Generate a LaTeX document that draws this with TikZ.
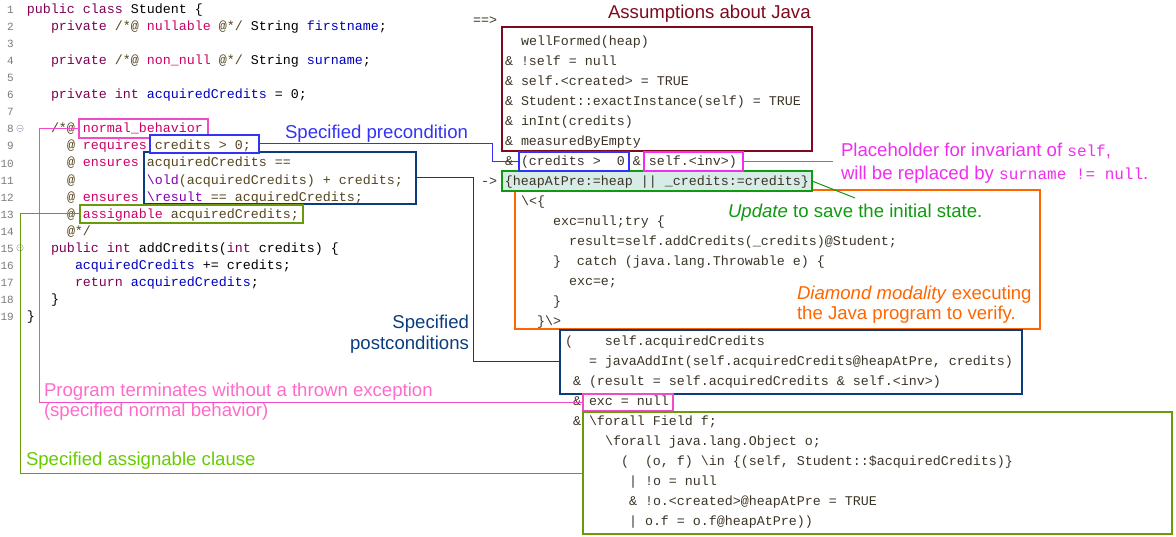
\documentclass[tikz,border=0pt]{standalone}
\usepackage{fontspec}
\setmainfont{Liberation Sans}
\newfontfamily\monof{Liberation Mono}
\usetikzlibrary{calc}
\definecolor{kw}{HTML}{7F0055}
\definecolor{fld}{HTML}{0000C0}
\definecolor{jmlkw}{HTML}{CC0066}
\definecolor{jmlc}{HTML}{55451F}
\definecolor{jmlsp}{HTML}{7F00B0}
\definecolor{rc}{HTML}{3B3326}
\definecolor{lnc}{HTML}{7A7A7A}
\definecolor{pinkc}{HTML}{F04CC8}
\definecolor{pinkt}{HTML}{FF6BCB}
\definecolor{bluec}{HTML}{3333F5}
\definecolor{dkblue}{HTML}{0B3D7E}
\definecolor{dkred}{HTML}{7F0A1F}
\definecolor{magc}{HTML}{F02EF0}
\definecolor{greenc}{HTML}{109A10}
\definecolor{mint}{HTML}{D8ECE7}
\definecolor{orangec}{HTML}{FF6600}
\definecolor{olivec}{HTML}{6A9A0A}
\definecolor{olivet}{HTML}{66CC00}
\definecolor{foldc}{HTML}{8A9AB0}
\newcommand\bsl{\textbackslash}
\tikzset{
  code/.style={anchor=base west, inner sep=0pt, outer sep=0pt, font=\monof\fontsize{13.33}{20}\selectfont},
  rcode/.style={code, text=rc},
  lnum/.style={anchor=base east, inner sep=0pt, font=\monof\fontsize{11}{13}\selectfont, text=lnc},
  lab/.style={anchor=base west, inner sep=0pt, outer sep=0pt, font=\fontsize{18.6}{22}\selectfont},
  labr/.style={lab, anchor=base east},
  box/.style={draw, line width=2pt, inner sep=0pt, outer sep=0pt, anchor=north west},
  conn/.style={line width=1pt},
}
\newcommand\mlab[1]{{\monof\fontsize{16}{20}\selectfont #1}}
\begin{document}
\begin{tikzpicture}[x=1pt,y=-1pt]
\useasboundingbox (0,0) rectangle (1176,537);

% ---------- boxes ----------
\node[box, draw=dkred, minimum width=310pt, minimum height=124pt] (assumeBox) at (502,27) {};
\node[box, draw=orangec, minimum width=525pt, minimum height=139pt] (dmBox) at (515,190) {};
\node[box, draw=greenc, fill=mint, minimum width=310pt, minimum height=20pt] (updBox) at (502,171) {};
\node[box, draw=bluec, minimum width=110pt, minimum height=19pt] (preBoxR) at (519,152) {};
\node[box, draw=magc, minimum width=99pt, minimum height=19pt] (invBox) at (644,152) {};
\node[box, draw=dkblue, minimum width=462pt, minimum height=64pt] (postBoxR) at (560,330) {};
\node[box, draw=pinkc, minimum width=90pt, minimum height=17pt] (excBox) at (583,394) {};
\node[box, draw=olivec, minimum width=589pt, minimum height=122pt] (asgBoxR) at (583,412) {};

\node[box, draw=dkblue, minimum width=272pt, minimum height=52pt] (postBoxL) at (144,152) {};
\node[box, draw=pinkc, minimum width=129pt, minimum height=19pt] (nbBox) at (79,119) {};
\node[box, draw=bluec, fill=white, minimum width=109pt, minimum height=18pt] (preBoxL) at (150,135) {};
\node[box, draw=olivec, minimum width=223pt, minimum height=18pt] (asgBoxL) at (80,205) {};

% ---------- left code ----------
\foreach \n in {1,...,19} \node[lnum] (ln\n) at (14,{13.5+(\n-1)*17.06}) {\n};
\draw[foldc] (20,128.4) circle (3.3) (18,128.4) -- (22,128.4);
\draw[foldc] (20,247.8) circle (3.3) (18,247.8) -- (22,247.8);

\node[code] (c1) at (27,13.5) {\textcolor{kw}{public class} Student \{};
\node[code] (c2) at (51,30.56) {\textcolor{kw}{private} \textcolor{jmlc}{/*@} \textcolor{jmlkw}{nullable} \textcolor{jmlc}{@*/} String \textcolor{fld}{firstname};};
\node[code] (c4) at (51,64.7) {\textcolor{kw}{private} \textcolor{jmlc}{/*@} \textcolor{jmlkw}{non\_null} \textcolor{jmlc}{@*/} String \textcolor{fld}{surname};};
\node[code] (c6) at (51,98.8) {\textcolor{kw}{private int} \textcolor{fld}{acquiredCredits} = 0;};
\node[code] (c8) at (51,132.9) {\textcolor{jmlc}{/*@} \textcolor{jmlkw}{normal\_behavior}};
\node[code] (c9) at (67,150.0) {\textcolor{jmlc}{@} \textcolor{jmlkw}{requires} \textcolor{jmlc}{credits > 0;}};
\node[code] (c10) at (67,167.0) {\textcolor{jmlc}{@} \textcolor{jmlkw}{ensures} \textcolor{jmlc}{acquiredCredits ==}};
\node[code] (c11) at (67,184.1) {\textcolor{jmlc}{@~~~~~~~~~}\textcolor{jmlsp}{\bsl old}\textcolor{jmlc}{(acquiredCredits) + credits;}};
\node[code] (c12) at (67,201.1) {\textcolor{jmlc}{@} \textcolor{jmlkw}{ensures} \textcolor{jmlsp}{\bsl result}~\textcolor{jmlc}{== acquiredCredits;}};
\node[code] (c13) at (67,218.2) {\textcolor{jmlc}{@} \textcolor{jmlkw}{assignable} \textcolor{jmlc}{acquiredCredits;}};
\node[code] (c14) at (67,235.3) {\textcolor{jmlc}{@*/}};
\node[code] (c15) at (51,252.3) {\textcolor{kw}{public int} addCredits(\textcolor{kw}{int} credits) \{};
\node[code] (c16) at (75,269.4) {\textcolor{fld}{acquiredCredits} += credits;};
\node[code] (c17) at (75,286.5) {\textcolor{kw}{return} \textcolor{fld}{acquiredCredits};};
\node[code] (c18) at (51,303.5) {\}};
\node[code] (c19) at (27,320.6) {\}};

% ---------- right code ----------
\node[rcode] (imp) at (473,25) {==>};
\node[rcode] (r0) at (521,45.5) {wellFormed(heap)};
\node[rcode] (r1) at (505,65.5) {\& !self = null};
\node[rcode] (r2) at (505,85.5) {\& self.<created> = TRUE};
\node[rcode] (r3) at (505,105.5) {\& Student::exactInstance(self) = TRUE};
\node[rcode] (r4) at (505,125.5) {\& inInt(credits)};
\node[rcode] (r5) at (505,145.5) {\& measuredByEmpty};
\node[rcode] (r6) at (505,165.5) {\& (credits >~~0 \& self.<inv>)};
\node[rcode] (r7) at (481,185.5) {->~\{heapAtPre:=heap || \_credits:=credits\}};
\node[rcode] (r8) at (521,205.5) {\bsl<\{};
\node[rcode] (r9) at (553,225.5) {exc=null;try \{};
\node[rcode] (r10) at (569,245.5) {result=self.addCredits(\_credits)@Student;};
\node[rcode] (r11) at (553,265.5) {\}~~catch (java.lang.Throwable e) \{};
\node[rcode] (r12) at (569,285.5) {exc=e;};
\node[rcode] (r13) at (553,305.5) {\}};
\node[rcode] (r14) at (537,325.5) {\}\bsl>};
\node[rcode] (r15) at (565,345.5) {(~~~~self.acquiredCredits};
\node[rcode] (r16) at (589,365.5) {= javaAddInt(self.acquiredCredits@heapAtPre, credits)};
\node[rcode] (r17) at (573,385.5) {\& (result = self.acquiredCredits \& self.<inv>)};
\node[rcode] (r18) at (573,405.5) {\& exc = null};
\node[rcode] (r19) at (573,425.5) {\& \bsl forall Field f;};
\node[rcode] (r20) at (605,445.5) {\bsl forall java.lang.Object o;};
\node[rcode] (r21) at (621,465.5) {(~~(o, f) \bsl in \{(self, Student::\$acquiredCredits)\}};
\node[rcode] (r22) at (629,485.5) {| !o = null};
\node[rcode] (r23) at (629,505.5) {\& !o.<created>@heapAtPre = TRUE};
\node[rcode] (r24) at (629,525.5) {| o.f = o.f@heapAtPre))};

% ---------- labels ----------
\node[lab, text=dkred] (assumeLab) at (608,19) {Assumptions about Java};
\node[lab, text=bluec] (preLab) at (285,138.7) {Specified precondition};
\node[lab, text=magc] (invLab1) at (841,157) {Placeholder for invariant of \mlab{self},};
\node[lab, text=magc] (invLab2) at (841,180) {will be replaced by \mlab{surname != null}.};
\node[lab, text=greenc] (updLab) at (728,218) {\textit{Update} to save the initial state.};
\node[lab, text=orangec] (dmLab1) at (797,299.5) {\textit{Diamond modality} executing};
\node[lab, text=orangec] (dmLab2) at (797,320) {the Java program to verify.};
\node[labr, text=dkblue] (postLab1) at (469,328.4) {Specified};
\node[labr, text=dkblue] (postLab2) at (469,349.7) {postconditions};
\node[lab, text=pinkt] (nbLab1) at (44,396.7) {Program terminates without a thrown exception};
\node[lab, text=pinkt] (nbLab2) at (44,417) {(specified normal behavior)};
\node[lab, text=olivet] (asgLab) at (26,465) {Specified assignable clause};

% ---------- connectors ----------
\coordinate (invEnd) at (833,161.5);
\coordinate (updEnd) at (855,198);
\draw[conn, bluec] (preBoxL.east) -| ($(preBoxR.west)+(-27,0)$) -- (preBoxR.west);
\draw[conn, dkblue] (postBoxL.east) -| ($(postBoxR.west)+(-87,0)$) -- (postBoxR.west);
\draw[conn, pinkc] (nbBox.west) -- ++(-40,0) |- (excBox.west);
\draw[conn, olivec] (asgBoxL.west) -- ++(-60,0) |- (asgBoxR.west);
\draw[conn, magc] (invBox.east) -- (invEnd);
\draw[conn, greenc] (updBox.east) -- (updEnd);
\end{tikzpicture}
\end{document}
